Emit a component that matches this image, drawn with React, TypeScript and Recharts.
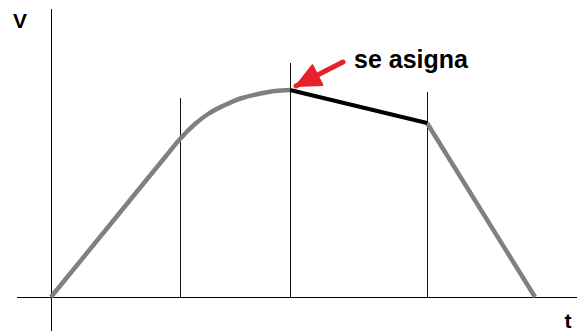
import { ComposedChart, Line, XAxis, YAxis, ReferenceLine } from "recharts";

// t / v measured from the axis origin
const curveT = [0, 60, 115, 129, 144, 157, 174, 191, 207, 224, 239];
const curveV = [0, 73.5, 141, 158, 173, 183, 192, 199, 203, 206, 207];

const assignedT = [239, 376];
const assignedV = [207, 174];

const fallT = [376, 484];
const fallV = [174, 0];

const markT = [129, 239, 376];
const markTop = [199, 234, 205];

const arrowT = [292, 245];
const arrowV = [235, 211];

const zip = (ts: number[], vs: number[]) => ts.map((t, i) => ({ t, v: vs[i] }));

const curveData = zip(curveT, curveV);
const assignedData = zip(assignedT, assignedV);
const fallData = zip(fallT, fallV);
const arrowData = zip(arrowT, arrowV);

const RED = "#e8202a";

const ArrowHead = (props: any) => {
  const { cx, cy, index } = props;
  if (index !== arrowData.length - 1 || cx == null) return <g key={index} />;
  // direction of the shaft (screen pixels)
  const dx = -47;
  const dy = 24;
  const len = Math.hypot(dx, dy);
  const ux = dx / len;
  const uy = dy / len;
  const headLen = 24;
  const half = 11;
  const bx = cx - ux * headLen;
  const by = cy - uy * headLen;
  const pts = [
    [cx, cy],
    [bx - uy * half, by + ux * half],
    [bx + uy * half, by - ux * half],
  ]
    .map((p) => p.join(","))
    .join(" ");
  return <polygon key={index} points={pts} fill={RED} stroke={RED} strokeLinejoin="round" strokeWidth={2} />;
};

export default function App() {
  return (
    <div style={{ position: "absolute", left: 0, top: 0, width: 577, height: 331, background: "#fff" }}>
      <ComposedChart width={577} height={331} margin={{ top: 0, right: 0, bottom: 0, left: 0 }}>
        <XAxis type="number" dataKey="t" domain={[-51, 526]} allowDataOverflow hide />
        <YAxis type="number" dataKey="v" domain={[-34, 297]} allowDataOverflow hide />

        <ReferenceLine
          segment={[{ x: 0, y: -34 }, { x: 0, y: 288 }]}
          stroke="#000"
          strokeWidth={1}
          shapeRendering="crispEdges"
          ifOverflow="visible"
        />
        <ReferenceLine
          segment={[{ x: -34, y: 0 }, { x: 526, y: 0 }]}
          stroke="#000"
          strokeWidth={1}
          shapeRendering="crispEdges"
          ifOverflow="visible"
        />
        {markT.map((t, i) => (
          <ReferenceLine
            key={t}
            segment={[{ x: t, y: 0 }, { x: t, y: markTop[i] }]}
            stroke="#111"
            strokeWidth={1}
            shapeRendering="crispEdges"
          />
        ))}

        <Line
          data={curveData}
          dataKey="v"
          type="monotone"
          stroke="#808080"
          strokeWidth={4.5}
          dot={false}
          activeDot={false}
          isAnimationActive={false}
        />
        <Line
          data={fallData}
          dataKey="v"
          type="linear"
          stroke="#808080"
          strokeWidth={4.5}
          dot={false}
          activeDot={false}
          isAnimationActive={false}
        />
        <Line
          data={assignedData}
          dataKey="v"
          type="linear"
          stroke="#000"
          strokeWidth={4}
          dot={false}
          activeDot={false}
          isAnimationActive={false}
        />
        <Line
          data={arrowData}
          dataKey="v"
          type="linear"
          stroke={RED}
          strokeWidth={5}
          strokeLinecap="round"
          dot={ArrowHead}
          activeDot={false}
          isAnimationActive={false}
        />

        <text x={20} y={28} textAnchor="middle" fontFamily="Liberation Sans, Arial, sans-serif" fontWeight="bold" fontSize={21} fill="#000">
          V
        </text>
        <text x={568} y={328} textAnchor="middle" fontFamily="Liberation Sans, Arial, sans-serif" fontWeight="bold" fontSize={21} fill="#000">
          t
        </text>
        <text x={354} y={68} fontFamily="Liberation Sans, Arial, sans-serif" fontWeight="bold" fontSize={25} fill="#000">
          se asigna
        </text>
      </ComposedChart>
    </div>
  );
}
